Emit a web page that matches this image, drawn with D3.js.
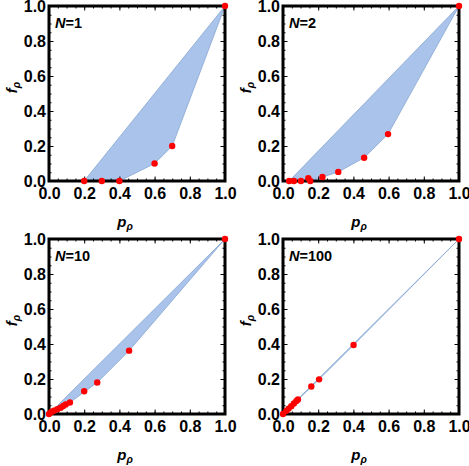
<!DOCTYPE html>
<html lang="en">
<head>
    <meta charset="UTF-8">
    <title>f vs p for N = 1, 2, 10, 100</title>
    <script src="https://d3js.org/d3.v7.min.js"></script>
    <style>
        body { margin: 0; background: #fff; }
        text { font-family: "Liberation Sans", Arial, sans-serif; font-weight: bold; }
        .tick text { font-size: 16px; fill: #000; }
        .tick line { stroke: #000; stroke-width: 1; }
    </style>
</head>
<body>
    <svg width="469" height="466" id="chart"></svg>

    <script>
        // values
        const panelLabels = ["1", "2", "10", "100"];

        const pN1 = [0.2, 0.3, 0.4, 0.6, 0.7, 1.0];
        const fN1 = [0.0, 0.0, 0.0, 0.1, 0.2, 1.0];

        const pN2 = [0.035, 0.062, 0.102, 0.144, 0.155, 0.224, 0.314, 0.461, 0.597, 1.0];
        const fN2 = [0.0, 0.0, 0.0, 0.016, 0.0, 0.023, 0.052, 0.133, 0.268, 1.0];

        const pN10 = [0.0, 0.013, 0.028, 0.047, 0.066, 0.081, 0.095, 0.119, 0.200, 0.274, 0.455, 1.0];
        const fN10 = [0.0, 0.012, 0.019, 0.027, 0.036, 0.046, 0.055, 0.066, 0.130, 0.180, 0.362, 1.0];

        const pN100 = [0.0, 0.019, 0.032, 0.047, 0.062, 0.076, 0.085, 0.161, 0.205, 0.401, 1.0];
        const fN100 = [0.0, 0.018, 0.031, 0.045, 0.060, 0.074, 0.083, 0.157, 0.198, 0.394, 1.0];

        const majorTicks = [0, 0.2, 0.4, 0.6, 0.8, 1.0];
        const minorTicks = d3.range(0, 1.0001, 0.05);

        const panels = [
            { label: panelLabels[0], p: pN1, f: fN1 },
            { label: panelLabels[1], p: pN2, f: fN2 },
            { label: panelLabels[2], p: pN10, f: fN10 },
            { label: panelLabels[3], p: pN100, f: fN100 }
        ];

        const svg = d3.select("#chart");
        const plotW = 176, plotH = 175;
        const origins = [[49, 6], [283, 6], [49, 239], [283, 239]];

        const x = d3.scaleLinear().domain([0, 1]).range([0, plotW]);
        const y = d3.scaleLinear().domain([0, 1]).range([plotH, 0]);
        const fmt = d3.format(".1f");

        panels.forEach((panel, i) => {
            const [ox, oy] = origins[i];
            const g = svg.append("g").attr("transform", `translate(${ox},${oy})`);
            const pts = panel.p.map((p, k) => [x(p), y(panel.f[k])]);

            // shaded region = convex hull of the points
            const hull = d3.polygonHull(pts);
            g.append("path")
                .attr("d", "M" + hull.join("L") + "Z")
                .attr("fill", "#a9c3ea")
                .attr("stroke", "#8eabd6")
                .attr("stroke-width", 0.9)
                .attr("stroke-linejoin", "round");

            // minor ticks on all sides
            const minorAxes = [
                [d3.axisBottom(x), `translate(0,${plotH})`],
                [d3.axisTop(x), "translate(0,0)"],
                [d3.axisLeft(y), "translate(0,0)"],
                [d3.axisRight(y), `translate(${plotW},0)`]
            ];
            minorAxes.forEach(([ax, tr]) => {
                g.append("g").attr("transform", tr)
                    .call(ax.tickValues(minorTicks).tickSizeInner(-2.5).tickSizeOuter(0).tickFormat(""))
                    .call(s => s.select(".domain").remove());
            });

            // major ticks, labels on bottom and left
            g.append("g").attr("transform", `translate(0,${plotH})`)
                .call(d3.axisBottom(x).tickValues(majorTicks).tickSizeInner(-4.5).tickSizeOuter(0)
                    .tickPadding(7).tickFormat(fmt))
                .call(s => s.select(".domain").remove());
            g.append("g")
                .call(d3.axisLeft(y).tickValues(majorTicks).tickSizeInner(-4.5).tickSizeOuter(0)
                    .tickPadding(3).tickFormat(fmt))
                .call(s => s.select(".domain").remove());
            g.append("g")
                .call(d3.axisTop(x).tickValues(majorTicks).tickSizeInner(-4.5).tickSizeOuter(0).tickFormat(""))
                .call(s => s.select(".domain").remove());
            g.append("g").attr("transform", `translate(${plotW},0)`)
                .call(d3.axisRight(y).tickValues(majorTicks).tickSizeInner(-4.5).tickSizeOuter(0).tickFormat(""))
                .call(s => s.select(".domain").remove());

            g.selectAll(".tick text").attr("font-family", null).attr("font-size", null);

            // frame
            g.append("rect")
                .attr("width", plotW).attr("height", plotH)
                .attr("fill", "none").attr("stroke", "#000").attr("stroke-width", 3);

            // points
            g.selectAll("circle")
                .data(pts)
                .enter()
                .append("circle")
                .attr("cx", d => d[0])
                .attr("cy", d => d[1])
                .attr("r", 3.2)
                .attr("fill", "#ff0000");

            // panel label
            const lab = g.append("text").attr("x", 6).attr("y", 22).attr("font-size", 14.5);
            lab.append("tspan").attr("font-style", "italic").text("N");
            lab.append("tspan").text("=" + panel.label);

            // axis titles
            const xt = g.append("text")
                .attr("x", plotW / 2 - 12).attr("y", 221)
                .attr("text-anchor", "middle").attr("font-size", 15).attr("font-style", "italic");
            xt.append("tspan").text("p");
            xt.append("tspan").attr("font-size", 10.5).attr("dy", 3).text("\u03c1");

            const yt = g.append("text")
                .attr("transform", `translate(-32,${plotH / 2 - 6}) rotate(-90)`)
                .attr("text-anchor", "middle").attr("font-size", 15).attr("font-style", "italic");
            yt.append("tspan").text("f");
            yt.append("tspan").attr("font-size", 10.5).attr("dy", 3).text("\u03c1");
        });
    </script>
</body>
</html>
